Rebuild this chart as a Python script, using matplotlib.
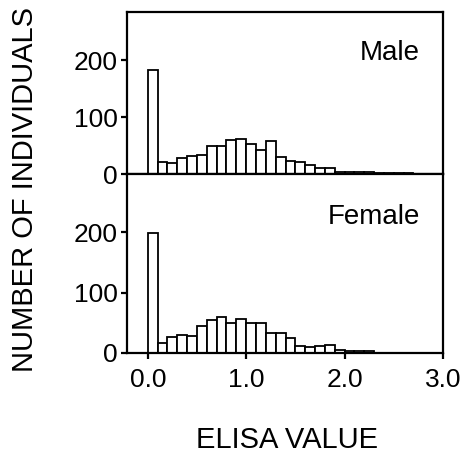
import numpy as np
import matplotlib
matplotlib.use('Agg')
from matplotlib import pyplot as plt

plt.rcParams['font.family'] = ['Liberation Sans', 'DejaVu Sans']

# bin left edges (width 0.1) and counts
bin_width = 0.1
male_counts = [182, 22, 19, 28, 31, 34, 49, 49, 59, 61, 52, 43, 58, 30, 23,
               21, 16, 10, 10, 4, 4, 3, 3, 2, 2, 2, 2]
female_counts = [198, 17, 26, 30, 28, 45, 54, 60, 50, 57, 49, 49, 33, 33, 25,
                 11, 10, 11, 14, 5, 3, 3, 3]
male_edges = np.arange(len(male_counts)) * bin_width
female_edges = np.arange(len(female_counts)) * bin_width

y_ticks = [0, 100, 200]
x_ticks = [0.0, 1.0, 2.0, 3.0]
x_labels = ['0.0', '1.0', '2.0', '3.0']

fig = plt.figure(figsize=(4.65, 4.57), dpi=100)
ax1 = fig.add_axes([0.274, 0.619, 0.6785, 0.3545])
ax2 = fig.add_axes([0.274, 0.2276, 0.6785, 0.3917])

panels = [(ax1, male_edges, male_counts, 'Male', 284, 0.745),
          (ax2, female_edges, female_counts, 'Female', 296, 0.76)]

for ax, edges, counts, name, ytop, ty in panels:
    ax.bar(edges, counts, width=bin_width, align='edge',
           facecolor='white', edgecolor='black', linewidth=1.3)
    ax.set_xlim(-0.207, 3.0)
    ax.set_ylim(0, ytop)
    ax.set_yticks(y_ticks)
    for s in ax.spines.values():
        s.set_linewidth(1.6)
    ax.tick_params(axis='y', direction='out', length=4, width=1.6,
                   labelsize=19, pad=3)
    ax.text(0.927, ty, name, transform=ax.transAxes, ha='right',
            va='center', fontsize=20)

ax1.set_xticks([])
ax2.set_xticks(x_ticks)
ax2.set_xticklabels(x_labels)
ax2.tick_params(axis='x', direction='out', length=4, width=1.6,
                labelsize=19, pad=7)

fig.text(25 / 465, 1 - 190 / 457, 'NUMBER OF INDIVIDUALS', rotation=90,
         ha='center', va='center', fontsize=21)
fig.text(287 / 465, 1 - 440 / 457, 'ELISA VALUE', ha='center',
         va='center', fontsize=21)

fig.savefig('out.png', dpi=100, facecolor='white')
